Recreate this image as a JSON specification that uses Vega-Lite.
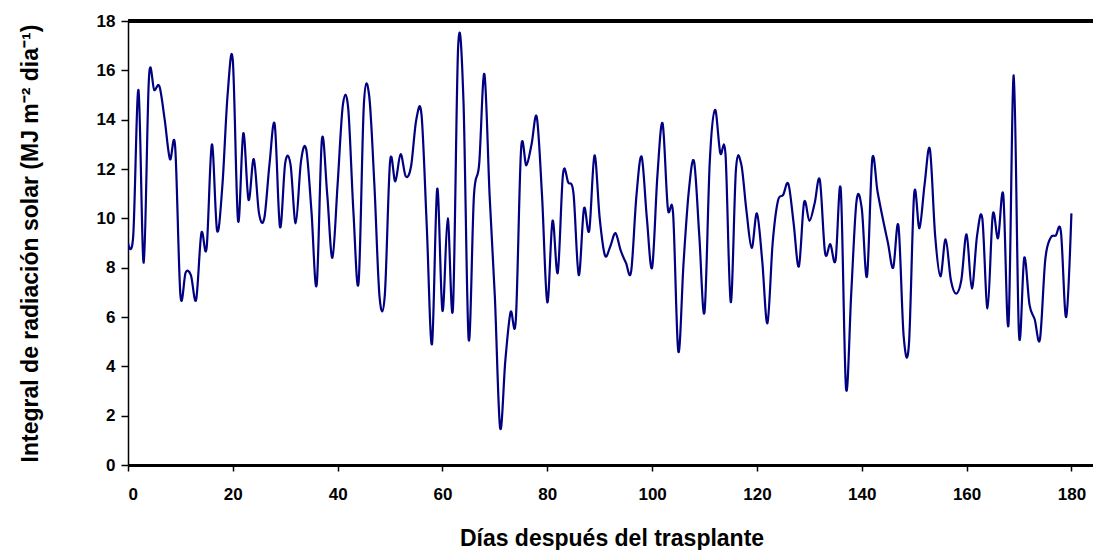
{
  "$schema": "https://vega.github.io/schema/vega-lite/v6.json",
  "autosize": {"type": "none"},
  "padding": {"left": 128, "top": 21, "right": 0, "bottom": 85},
  "width": 967,
  "height": 444,
  "background": "white",
  "config": {
    "view": {"stroke": null},
    "font": "Liberation Sans"
  },
  "data": {"values": [
    {"d":0,"v":9.0},{"d":1,"v":9.3},{"d":2,"v":15.2},{"d":3,"v":8.2},{"d":4,"v":15.7},{"d":5,"v":15.2},{"d":6,"v":15.35},{"d":7,"v":14.0},{"d":8,"v":12.4},{"d":9,"v":12.9},
    {"d":10,"v":6.9},{"d":11,"v":7.8},{"d":12,"v":7.7},{"d":13,"v":6.7},{"d":14,"v":9.4},{"d":15,"v":8.8},{"d":16,"v":13.0},{"d":17,"v":9.5},{"d":18,"v":11.3},{"d":19,"v":15.0},
    {"d":20,"v":16.4},{"d":21,"v":9.9},{"d":22,"v":13.45},{"d":23,"v":10.75},{"d":24,"v":12.4},{"d":25,"v":10.2},{"d":26,"v":10.0},{"d":27,"v":12.2},{"d":28,"v":13.8},{"d":29,"v":9.65},
    {"d":30,"v":12.25},{"d":31,"v":12.2},{"d":32,"v":9.8},{"d":33,"v":12.3},{"d":34,"v":12.8},{"d":35,"v":10.3},{"d":36,"v":7.3},{"d":37,"v":13.2},{"d":38,"v":11.0},{"d":39,"v":8.4},
    {"d":40,"v":11.4},{"d":41,"v":14.6},{"d":42,"v":14.5},{"d":43,"v":10.3},{"d":44,"v":7.4},{"d":45,"v":14.6},{"d":46,"v":15.0},{"d":47,"v":11.4},{"d":48,"v":6.8},{"d":49,"v":6.9},
    {"d":50,"v":12.3},{"d":51,"v":11.5},{"d":52,"v":12.6},{"d":53,"v":11.7},{"d":54,"v":12.1},{"d":55,"v":14.0},{"d":56,"v":14.2},{"d":57,"v":9.7},{"d":58,"v":4.9},{"d":59,"v":11.2},
    {"d":60,"v":6.25},{"d":61,"v":10.0},{"d":62,"v":6.35},{"d":63,"v":17.0},{"d":64,"v":14.8},{"d":65,"v":5.1},{"d":66,"v":10.9},{"d":67,"v":12.2},{"d":68,"v":15.85},{"d":69,"v":10.9},
    {"d":70,"v":6.8},{"d":71,"v":1.5},{"d":72,"v":4.25},{"d":73,"v":6.2},{"d":74,"v":5.9},{"d":75,"v":12.8},{"d":76,"v":12.15},{"d":77,"v":13.0},{"d":78,"v":14.1},{"d":79,"v":10.9},
    {"d":80,"v":6.6},{"d":81,"v":9.9},{"d":82,"v":7.8},{"d":83,"v":11.8},{"d":84,"v":11.45},{"d":85,"v":11.0},{"d":86,"v":7.7},{"d":87,"v":10.4},{"d":88,"v":9.5},{"d":89,"v":12.55},
    {"d":90,"v":10.0},{"d":91,"v":8.5},{"d":92,"v":8.85},{"d":93,"v":9.4},{"d":94,"v":8.7},{"d":95,"v":8.2},{"d":96,"v":7.85},{"d":97,"v":10.9},{"d":98,"v":12.5},{"d":99,"v":10.0},
    {"d":100,"v":8.0},{"d":101,"v":11.7},{"d":102,"v":13.85},{"d":103,"v":10.4},{"d":104,"v":10.2},{"d":105,"v":4.6},{"d":106,"v":8.2},{"d":107,"v":11.1},{"d":108,"v":12.3},{"d":109,"v":9.3},
    {"d":110,"v":6.2},{"d":111,"v":12.3},{"d":112,"v":14.4},{"d":113,"v":12.65},{"d":114,"v":12.6},{"d":115,"v":6.6},{"d":116,"v":12.0},{"d":117,"v":12.2},{"d":118,"v":10.3},{"d":119,"v":8.8},
    {"d":120,"v":10.2},{"d":121,"v":8.3},{"d":122,"v":5.75},{"d":123,"v":9.0},{"d":124,"v":10.7},{"d":125,"v":10.95},{"d":126,"v":11.4},{"d":127,"v":9.8},{"d":128,"v":8.05},{"d":129,"v":10.65},
    {"d":130,"v":9.9},{"d":131,"v":10.6},{"d":132,"v":11.55},{"d":133,"v":8.6},{"d":134,"v":8.95},{"d":135,"v":8.3},{"d":136,"v":11.15},{"d":137,"v":3.1},{"d":138,"v":7.0},{"d":139,"v":10.7},
    {"d":140,"v":10.4},{"d":141,"v":7.65},{"d":142,"v":12.4},{"d":143,"v":11.1},{"d":144,"v":10.0},{"d":145,"v":9.0},{"d":146,"v":8.0},{"d":147,"v":9.7},{"d":148,"v":5.2},{"d":149,"v":4.9},
    {"d":150,"v":11.0},{"d":151,"v":9.6},{"d":152,"v":11.4},{"d":153,"v":12.8},{"d":154,"v":9.3},{"d":155,"v":7.65},{"d":156,"v":9.15},{"d":157,"v":7.5},{"d":158,"v":6.95},{"d":159,"v":7.5},
    {"d":160,"v":9.35},{"d":161,"v":7.15},{"d":162,"v":9.3},{"d":163,"v":10.0},{"d":164,"v":6.35},{"d":165,"v":10.15},{"d":166,"v":9.2},{"d":167,"v":10.95},{"d":168,"v":5.7},{"d":169,"v":15.8},
    {"d":170,"v":5.3},{"d":171,"v":8.4},{"d":172,"v":6.5},{"d":173,"v":5.9},{"d":174,"v":5.1},{"d":175,"v":8.3},{"d":176,"v":9.2},{"d":177,"v":9.3},{"d":178,"v":9.45},{"d":179,"v":6.0},
    {"d":180,"v":10.2}
  ]},
  "layer": [
    {
      "mark": {"type": "rule", "color": "black", "strokeWidth": 3},
      "encoding": {"y": {"datum": 18, "type": "quantitative"}}
    },
    {
      "mark": {"type": "line", "interpolate": "cardinal", "color": "#000080", "strokeWidth": 2.2, "clip": true},
      "encoding": {
        "x": {
          "field": "d", "type": "quantitative",
          "scale": {"domain": [0, 184.5], "nice": false, "zero": false},
          "axis": {
            "values": [0, 20, 40, 60, 80, 100, 120, 140, 160, 180],
            "title": "Días después del trasplante",
            "titleFont": "Liberation Sans", "titleFontSize": 23, "titleFontWeight": "bold", "titleColor": "black", "titlePadding": 25,
            "labelFont": "Liberation Sans", "labelFontSize": 17, "labelFontWeight": "bold", "labelColor": "black", "labelPadding": 15,
            "domainColor": "black", "domainWidth": 3,
            "tickColor": "black", "tickSize": 6, "tickWidth": 1.5,
            "grid": false
          }
        },
        "y": {
          "field": "v", "type": "quantitative",
          "scale": {"domain": [0, 18], "nice": false},
          "axis": {
            "values": [0, 2, 4, 6, 8, 10, 12, 14, 16, 18],
            "title": "Integral de radiación solar (MJ m⁻² dia⁻¹)",
            "titleFont": "Liberation Sans", "titleFontSize": 23, "titleFontWeight": "bold", "titleColor": "black", "titlePadding": 54,
            "labelFont": "Liberation Sans", "labelFontSize": 17, "labelFontWeight": "bold", "labelColor": "black", "labelPadding": 6,
            "domainColor": "black", "domainWidth": 1.5,
            "tickColor": "black", "tickSize": 7, "tickWidth": 1.5,
            "grid": false
          }
        }
      }
    }
  ]
}
